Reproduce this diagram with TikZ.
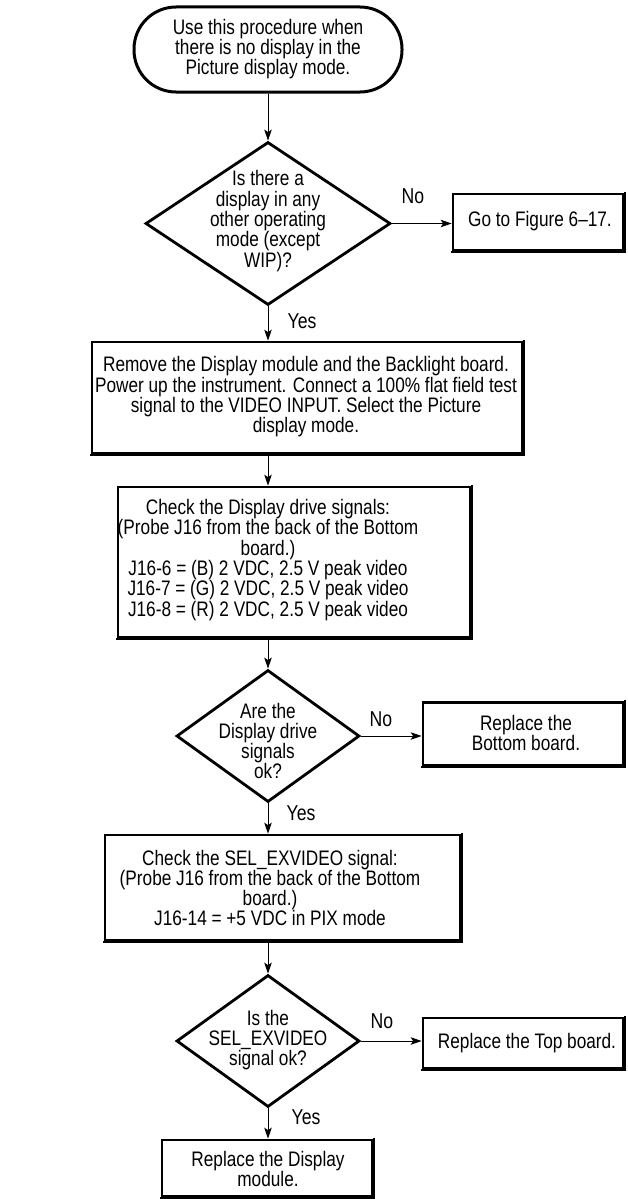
\documentclass[tikz,border=0pt]{standalone}
\usepackage{fontspec}
\setmainfont[FakeStretch=0.82]{Liberation Sans}
\usetikzlibrary{shapes.geometric,arrows.meta}
\begin{document}
\begin{tikzpicture}[x=1pt,y=-1pt,
  txt/.style={font=\fontsize{21}{20.3}\selectfont, align=center, inner sep=0pt},
  boxf/.style={draw, rectangle, line width=2.7pt, inner sep=0pt},
  termf/.style={draw, rectangle, rounded corners=42pt, line width=3pt, inner sep=0pt},
  dia/.style={draw, diamond, line width=2.8pt, inner sep=0pt},
  arr/.style={-{Stealth[length=11pt,width=7.5pt,inset=2.5pt]}, line width=1pt},
  lab/.style={font=\fontsize{21.5}{24}\selectfont, inner sep=0pt},
  shadowline/.style={line width=1.6pt, line cap=rect}
]
\newcommand\boxshadow[1]{\draw[shadowline] ([shift={(0.4,0)}]#1.north east) -- ([shift={(0.4,0.4)}]#1.south east) -- ([shift={(0,0.4)}]#1.south west);}
\useasboundingbox (0,0) rectangle (627,1199);

% start
\node[termf, minimum width=268pt, minimum height=85pt] (start) at (268,49.5) {};
\node[txt] (starttxt) at (268,49) {Use this procedure when\\there is no display in the\\Picture display mode.};

% decision 1
\node[dia, minimum width=245pt, minimum height=163pt] (d1) at (268,223.5) {};
\node[txt] (d1txt) at (268,221) {Is there a\\display in any\\other operating\\mode (except\\WIP)?};
\node[boxf, minimum width=170pt, minimum height=56pt] (g1) at (538,222) {};
\node[txt] (g1txt) at (540,221) {Go to Figure 6--17.};
\boxshadow{g1}

% box 2
\node[boxf, minimum width=430pt, minimum height=111pt] (b2) at (307,397.5) {};
\node[txt] (b2txt) at (306,397) {Remove the Display module and the Backlight board.\\Power up the instrument. Connect a 100\% flat field test\\signal to the VIDEO INPUT. Select the Picture\\display mode.};
\boxshadow{b2}

% box 3
\node[boxf, minimum width=352pt, minimum height=150pt] (b3) at (294,562) {};
\node[txt] (b3txt) at (268,560) {Check the Display drive signals:\\(Probe J16 from the back of the Bottom\\board.)\\J16-6 = (B) 2 VDC, 2.5 V peak video\\J16-7 = (G) 2 VDC, 2.5 V peak video\\J16-8 = (R) 2 VDC, 2.5 V peak video};
\boxshadow{b3}

% decision 2
\node[dia, minimum width=183pt, minimum height=132pt] (d2) at (268,736) {};
\node[txt] (d2txt) at (268,741) {Are the\\Display drive\\signals\\ok?};
\node[boxf, minimum width=200pt, minimum height=63pt] (g2) at (523,734) {};
\node[txt] (g2txt) at (526,733) {Replace the\\Bottom board.};
\boxshadow{g2}

% box 4
\node[boxf, minimum width=355pt, minimum height=105pt] (b4) at (282.5,887.5) {};
\node[txt] (b4txt) at (270,888) {Check the SEL\_EXVIDEO signal:\\(Probe J16 from the back of the Bottom\\board.)\\J16-14 = +5 VDC in PIX mode};
\boxshadow{b4}

% decision 3
\node[dia, minimum width=183pt, minimum height=132pt] (d3) at (268,1041) {};
\node[txt] (d3txt) at (268,1040) {Is the\\SEL\_EXVIDEO\\signal ok?};
\node[boxf, minimum width=200pt, minimum height=50pt] (g3) at (523,1043) {};
\node[txt] (g3txt) at (527,1043) {Replace the Top board.};
\boxshadow{g3}

% box 5
\node[boxf, minimum width=210pt, minimum height=56pt] (b5) at (267,1168) {};
\node[txt] (b5txt) at (268,1169) {Replace the Display\\module.};
\boxshadow{b5}

% labels
\node[lab] (no1) at (413,196) {No};
\node[lab] (no2) at (381,719) {No};
\node[lab] (no3) at (382,1021) {No};
\node[lab] (yes1) at (302,321) {Yes};
\node[lab] (yes2) at (301,813) {Yes};
\node[lab] (yes3) at (306,1117) {Yes};

% connectors
\draw[arr] (start.south) -- (d1.north);
\draw[arr] (d1.east) -- (d1.east -| g1.west);
\draw[arr] (d1.south) -- (d1.south |- b2.north);
\draw[arr] (d1.south |- b2.south) -- (d1.south |- b3.north);
\draw[arr] (d2.north |- b3.south) -- (d2.north);
\draw[arr] (d2.east) -- (d2.east -| g2.west);
\draw[arr] (d2.south) -- (d2.south |- b4.north);
\draw[arr] (d3.north |- b4.south) -- (d3.north);
\draw[arr] (d3.east) -- (d3.east -| g3.west);
\draw[arr] (d3.south) -- (d3.south |- b5.north);
\end{tikzpicture}
\end{document}
